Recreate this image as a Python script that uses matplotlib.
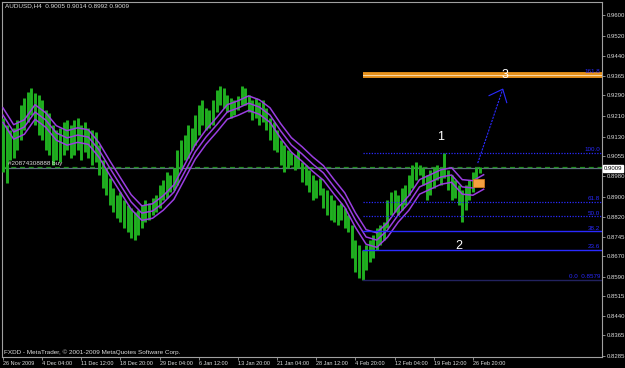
import matplotlib
matplotlib.use("Agg")
import matplotlib.pyplot as plt
from matplotlib.patches import Rectangle

plt.rcParams["font.family"] = ["Liberation Sans", "DejaVu Sans"]

# H4 bars, one sample every 4 bars: high / low
BAR_STEP = 4
highs = [0.9203, 0.9176, 0.9156, 0.9164, 0.9195, 0.9253, 0.9280, 0.9303, 0.9318, 0.9299,
         0.9291, 0.9272, 0.9233, 0.9222, 0.9176, 0.9156, 0.9164, 0.9187, 0.9195, 0.9176,
         0.9195, 0.9203, 0.9176, 0.9187, 0.9164, 0.9156, 0.9149, 0.9099, 0.9041, 0.9010,
         0.8971, 0.8933, 0.8906, 0.8917, 0.8886, 0.8867, 0.8856, 0.8840, 0.8848, 0.8867,
         0.8886, 0.8875, 0.8894, 0.8906, 0.8944, 0.8964, 0.8994, 0.8983, 0.9010, 0.9079,
         0.9118, 0.9137, 0.9176, 0.9164, 0.9214, 0.9253, 0.9272, 0.9241, 0.9233, 0.9272,
         0.9311, 0.9326, 0.9318, 0.9291, 0.9280, 0.9272, 0.9288, 0.9326, 0.9318, 0.9291,
         0.9272, 0.9280, 0.9264, 0.9272, 0.9241, 0.9203, 0.9187, 0.9156, 0.9118, 0.9099,
         0.9079, 0.9072, 0.9060, 0.9079, 0.9033, 0.9021, 0.9002, 0.8983, 0.8964, 0.8971,
         0.8933, 0.8925, 0.8906, 0.8886, 0.8867, 0.8875, 0.8856, 0.8829, 0.8790, 0.8732,
         0.8713, 0.8694, 0.8713, 0.8732, 0.8751, 0.8778, 0.8790, 0.8802, 0.8886, 0.8917,
         0.8925, 0.8906, 0.8933, 0.8944, 0.8983, 0.9021, 0.9033, 0.9021, 0.9010, 0.8983,
         0.9002, 0.9010, 0.9021, 0.9010, 0.9068, 0.9002, 0.8983, 0.8964, 0.8944, 0.8925,
         0.8944, 0.8964, 0.8994, 0.9010, 0.9014]
lows = [0.8994, 0.8952, 0.9041, 0.9048, 0.9079, 0.9118, 0.9156, 0.9187, 0.9214, 0.9176,
        0.9137, 0.9118, 0.9079, 0.9060, 0.9021, 0.9041, 0.9033, 0.9060, 0.9079, 0.9048,
        0.9060, 0.9079, 0.9041, 0.9072, 0.9048, 0.9021, 0.9033, 0.8983, 0.8933, 0.8906,
        0.8867, 0.8840, 0.8817, 0.8802, 0.8778, 0.8763, 0.8740, 0.8732, 0.8751, 0.8778,
        0.8802, 0.8809, 0.8829, 0.8840, 0.8856, 0.8886, 0.8894, 0.8917, 0.8925, 0.8944,
        0.9002, 0.9041, 0.9048, 0.9079, 0.9099, 0.9137, 0.9176, 0.9156, 0.9164, 0.9176,
        0.9226, 0.9253, 0.9241, 0.9226, 0.9203, 0.9214, 0.9233, 0.9253, 0.9253, 0.9226,
        0.9195, 0.9203, 0.9176, 0.9187, 0.9156, 0.9118, 0.9079, 0.9072, 0.9021, 0.8994,
        0.9010, 0.9021, 0.9002, 0.9010, 0.8956, 0.8944, 0.8917, 0.8886, 0.8894, 0.8906,
        0.8856, 0.8829, 0.8809, 0.8802, 0.8790, 0.8809, 0.8778, 0.8763, 0.8663, 0.8609,
        0.8586, 0.8579, 0.8616, 0.8647, 0.8663, 0.8694, 0.8713, 0.8732, 0.8778, 0.8829,
        0.8840, 0.8829, 0.8848, 0.8867, 0.8906, 0.8933, 0.8964, 0.8983, 0.8944, 0.8886,
        0.8906, 0.8933, 0.8964, 0.8944, 0.8971, 0.8925, 0.8886, 0.8894, 0.8867, 0.8802,
        0.8848, 0.8886, 0.8917, 0.8944, 0.8992]

# moving average (envelope middle), one value every 12 bars
MA_STEP = 12
ma_mid = [0.9214, 0.9149, 0.9168, 0.9226, 0.9195, 0.9145, 0.9126, 0.9137, 0.9129, 0.9079,
          0.9010, 0.8944, 0.8879, 0.8836, 0.8844, 0.8875, 0.8917, 0.8994, 0.9072, 0.9129,
          0.9176, 0.9226, 0.9241, 0.9260, 0.9245, 0.9214, 0.9153, 0.9099, 0.9064, 0.9025,
          0.8991, 0.8937, 0.8886, 0.8809, 0.8744, 0.8732, 0.8771, 0.8829, 0.8875, 0.8937,
          0.8956, 0.8975, 0.8983, 0.8937, 0.8933, 0.8956]
ma_band = 0.0028

# fibonacci retracement
fib_low = 0.8579
fib_high = 0.9067
fib_start = 404
fib_levels = [0.0, 23.6, 38.2, 50.0, 61.8, 100.0, 161.8]

bid = 0.9009
order_price = 0.9012
order_label = "#20874308888 buy"

ytick_values = [0.9600, 0.9520, 0.9440, 0.9365, 0.9290, 0.9210, 0.9130, 0.9055, 0.8980,
                0.8900, 0.8820, 0.8745, 0.8670, 0.8590, 0.8515, 0.8440, 0.8365, 0.8285]
xtick_labels = ["26 Nov 2009", "4 Dec 04:00", "11 Dec 12:00", "18 Dec 20:00",
                "29 Dec 04:00", "6 Jan 12:00", "13 Jan 20:00", "21 Jan 04:00",
                "28 Jan 12:00", "4 Feb 20:00", "12 Feb 04:00", "19 Feb 12:00",
                "26 Feb 20:00"]
XTICK_STEP = 44

TXT = "#dcdcdc"
GRN = "#20b020"
PUR = "#9a3ee0"
BLU = "#2a2aff"
FS = 4.0

fig = plt.figure(figsize=(6.25, 3.68), dpi=100, facecolor="black")
ax = fig.add_axes([2 / 625, 11 / 368, 600 / 625, 355 / 368])
ax.set_facecolor("black")
ax.set_xlim(-1.1, 673)
ax.set_ylim(0.82811, 0.96501)

# bars
bx = [i * BAR_STEP for i in range(len(highs))]
ax.vlines(bx, lows, highs, color=GRN, linewidth=2.1, zorder=3)

# envelopes
mx = [i * MA_STEP for i in range(len(ma_mid))]
ax.plot(mx, ma_mid, color=PUR, lw=1.1, zorder=4)
ax.plot(mx, [v + ma_band for v in ma_mid], color=PUR, lw=1.1, zorder=4)
ax.plot(mx, [v - ma_band for v in ma_mid], color=PUR, lw=1.1, zorder=4)

# bid line and order line
ax.axhline(bid, color="#5f7080", lw=0.9, zorder=2)
ax.axhline(order_price, color="#1f8f1f", lw=0.9, ls=(0, (4, 3)), zorder=2)
ax.text(6, order_price + 0.0004, order_label, color=TXT, fontsize=4.6, va="bottom", ha="left")

# fibonacci
xr = 673
for lv in fib_levels:
    p = fib_low + (fib_high - fib_low) * lv / 100
    if lv == 161.8:
        ax.plot([fib_start, xr], [p, p], color="#e8921c", lw=4.2, zorder=5, solid_capstyle="butt")
        ax.plot([fib_start, xr], [p, p], color="#f8d8a8", lw=0.7, zorder=6)
    elif lv == 0.0:
        ax.plot([fib_start, xr], [p, p], color="#22225e", lw=1.0, zorder=5)
    elif lv in (23.6, 38.2):
        ax.plot([fib_start, xr], [p, p], color=BLU, lw=1.0, zorder=5)
    else:
        ax.plot([fib_start, xr], [p, p], color=BLU, lw=0.9, ls=(0, (1, 1.2)), zorder=5)
    lab = f"{lv:.1f}" if lv else f"0.0  {fib_low:.4f}"
    ax.text(671, p + 0.0003, lab, color=BLU, fontsize=4.5, ha="right", va="bottom", zorder=7)

# drawn objects
ax.text(491.5, 0.9131, "1", color="white", fontsize=9, ha="center", va="center")
ax.text(512.4, 0.8710, "2", color="white", fontsize=9, ha="center", va="center")
ax.text(564.5, 0.9370, "3", color="white", fontsize=9, ha="center", va="center", zorder=8)
ax.plot([533.4, 561.5], [0.9029, 0.9314], color=BLU, lw=0.8, ls=(0, (2, 1)), zorder=6)
ax.plot([546.1, 561.5, 566.0], [0.9289, 0.9314, 0.9262], color=BLU, lw=0.8, zorder=6)
ax.add_patch(Rectangle((528.4, 0.8936), 12, 0.0033, facecolor="#f4a040",
                       edgecolor="#d07818", lw=0.6, zorder=7))

# axes styling
for s in ax.spines.values():
    s.set_color("#a0a0a0")
    s.set_linewidth(0.8)
ax.yaxis.tick_right()
ax.set_yticks(ytick_values)
ax.set_yticklabels([f"{v:.4f}" for v in ytick_values])
ax.set_xticks([i * XTICK_STEP for i in range(len(xtick_labels))])
ax.set_xticklabels(xtick_labels, ha="left")
ax.tick_params(axis="both", colors="#a0a0a0", labelcolor=TXT, labelsize=FS, length=2, width=0.6)
ax.tick_params(axis="y", labelsize=4.3, pad=1.5)
ax.tick_params(axis="x", pad=1)

ax.annotate(f"{bid:.4f}", xy=(1.0, bid), xycoords=("axes fraction", "data"),
            xytext=(1.5, 0), textcoords="offset points", fontsize=4.3, color="black",
            va="center", ha="left",
            bbox=dict(boxstyle="square,pad=0.15", fc="white", ec="white"))

fig.text(5 / 625, 1 - 6 / 368, "AUDUSD,H4  0.9005 0.9014 0.8992 0.9009",
         color=TXT, fontsize=4.6, va="center", ha="left")
fig.text(4 / 625, 1 - 352 / 368, "FXDD - MetaTrader, \u00a9 2001-2009 MetaQuotes Software Corp.",
         color=TXT, fontsize=4.6, va="center", ha="left")

fig.savefig("out.png", dpi=100, facecolor="black")
